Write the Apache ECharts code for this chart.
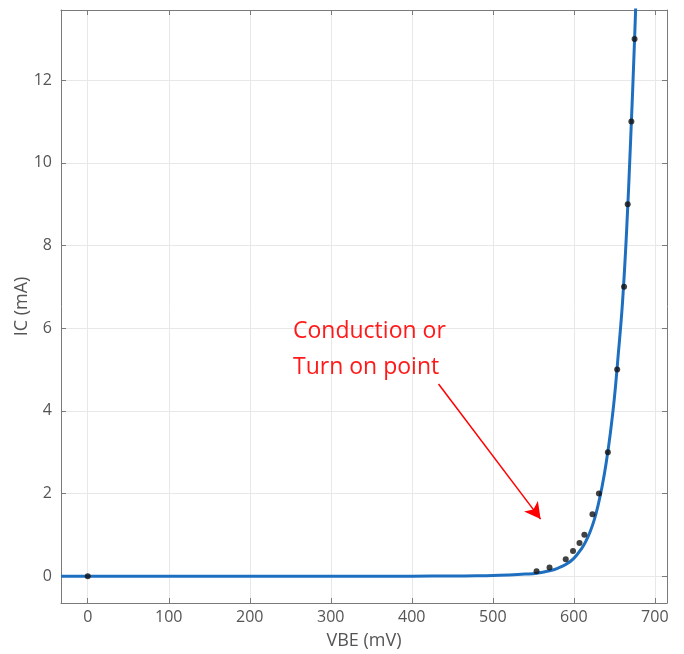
<!DOCTYPE html>
<html>
<head>
<meta charset="utf-8">
<script src="https://cdn.jsdelivr.net/npm/echarts@6/dist/echarts.min.js"></script>
<style>
  html, body { margin: 0; padding: 0; background: #fff; }
  #chart { width: 684px; height: 654px; }
</style>
</head>
<body>
<div id="chart"></div>
<script>
// datos
const xTicks = [0, 100, 200, 300, 400, 500, 600, 700];
const yTicks = [0, 2, 4, 6, 8, 10, 12];

// puntos medidos (mV, mA)
const medidosVBE = [0, 554, 570, 590, 599, 607, 613, 623, 631, 642, 653.5, 662, 666.5, 671, 675];
const medidosIC = [0, 0.12, 0.21, 0.41, 0.61, 0.8, 1.0, 1.5, 2.0, 3.0, 5.0, 7.0, 9.0, 11.0, 13.0];

const curvaVBE = [-33, 100, 200, 300, 400, 450, 480, 500, 520, 540, 554, 570, 580, 590, 600, 610, 615, 620, 625, 630, 635, 640, 645, 650, 655, 660, 665, 670, 675, 678];
const curvaIC = [0, 0, 0, 0, 0, 0.003, 0.008, 0.015, 0.03, 0.05, 0.07, 0.13, 0.19, 0.28, 0.43, 0.68, 0.85, 1.07, 1.35, 1.72, 2.18, 2.75, 3.45, 4.3, 5.4, 6.6, 8.3, 10.5, 13.0, 14.8];

// flecha de la anotacion (coordenadas de datos)
const flechaDesde = [433, 4.65];
const flechaHasta = [559, 1.38];

const chart = echarts.init(document.getElementById("chart"));

const ejeGris = "#7a7a7a";
const textoGris = "#555555";
const fuente = "Open Sans";

const baseX = {
  type: "value",
  min: -33,
  max: 715,
  axisLine: { show: true, onZero: false, lineStyle: { color: ejeGris, width: 1 } },
  axisTick: { show: true, inside: true, length: 5, customValues: xTicks, lineStyle: { color: ejeGris } },
  splitLine: { show: false }
};
const baseY = {
  type: "value",
  min: -0.65,
  max: 13.7,
  axisLine: { show: true, onZero: false, lineStyle: { color: ejeGris, width: 1 } },
  axisTick: { show: true, inside: true, length: 5, customValues: yTicks, lineStyle: { color: ejeGris } },
  splitLine: { show: false }
};

const option = {
  backgroundColor: "#fff",
  animation: false,
  grid: { left: 61, right: 17, top: 10, bottom: 51, containLabel: false, outerBoundsMode: "none" },
  xAxis: [
    Object.assign({}, baseX, {
      position: "bottom",
      name: "VBE (mV)",
      nameLocation: "middle",
      nameGap: 29,
      nameMoveOverlap: false,
      nameTextStyle: { color: textoGris, fontSize: 18, fontFamily: fuente },
      axisLabel: { show: true, customValues: xTicks, margin: 6, color: textoGris, fontSize: 16, fontFamily: fuente },
      splitLine: { show: true, lineStyle: { color: "#e8e8e8", width: 1 } }
    }),
    Object.assign({}, baseX, { position: "top", axisLabel: { show: false } })
  ],
  yAxis: [
    Object.assign({}, baseY, {
      position: "left",
      name: "IC (mA)",
      nameLocation: "middle",
      nameGap: 30,
      nameMoveOverlap: false,
      nameTextStyle: { color: textoGris, fontSize: 18, fontFamily: fuente },
      axisLabel: { show: true, customValues: yTicks, margin: 9, color: textoGris, fontSize: 16, fontFamily: fuente },
      splitLine: { show: true, lineStyle: { color: "#e8e8e8", width: 1 } }
    }),
    Object.assign({}, baseY, { position: "right", axisLabel: { show: false } })
  ],
  series: [
    {
      name: "Ajuste",
      type: "line",
      data: curvaVBE.map((v, i) => [v, curvaIC[i]]),
      smooth: 0.4,
      showSymbol: false,
      clip: true,
      lineStyle: { color: "#1f6fc0", width: 3 },
      z: 2,
      markLine: {
        silent: true,
        symbol: ["none", "arrow"],
        symbolSize: [13, 16],
        label: { show: false },
        lineStyle: { color: "#ff0000", width: 1.5, type: "solid" },
        data: [[
          { coord: flechaDesde },
          { coord: flechaHasta }
        ]]
      }
    },
    {
      name: "Medidos",
      type: "scatter",
      data: medidosVBE.map((v, i) => [v, medidosIC[i]]),
      symbolSize: 6,
      itemStyle: { color: "#111" },
      z: 3
    }
  ],
  graphic: [
    {
      type: "text",
      left: 293,
      top: 313,
      z: 100,
      style: {
        text: "Conduction or\nTurn on point",
        fill: "#ff1a1a",
        font: "23px 'Open Sans'",
        lineHeight: 36
      }
    }
  ]
};

chart.setOption(option);
</script>
</body>
</html>
